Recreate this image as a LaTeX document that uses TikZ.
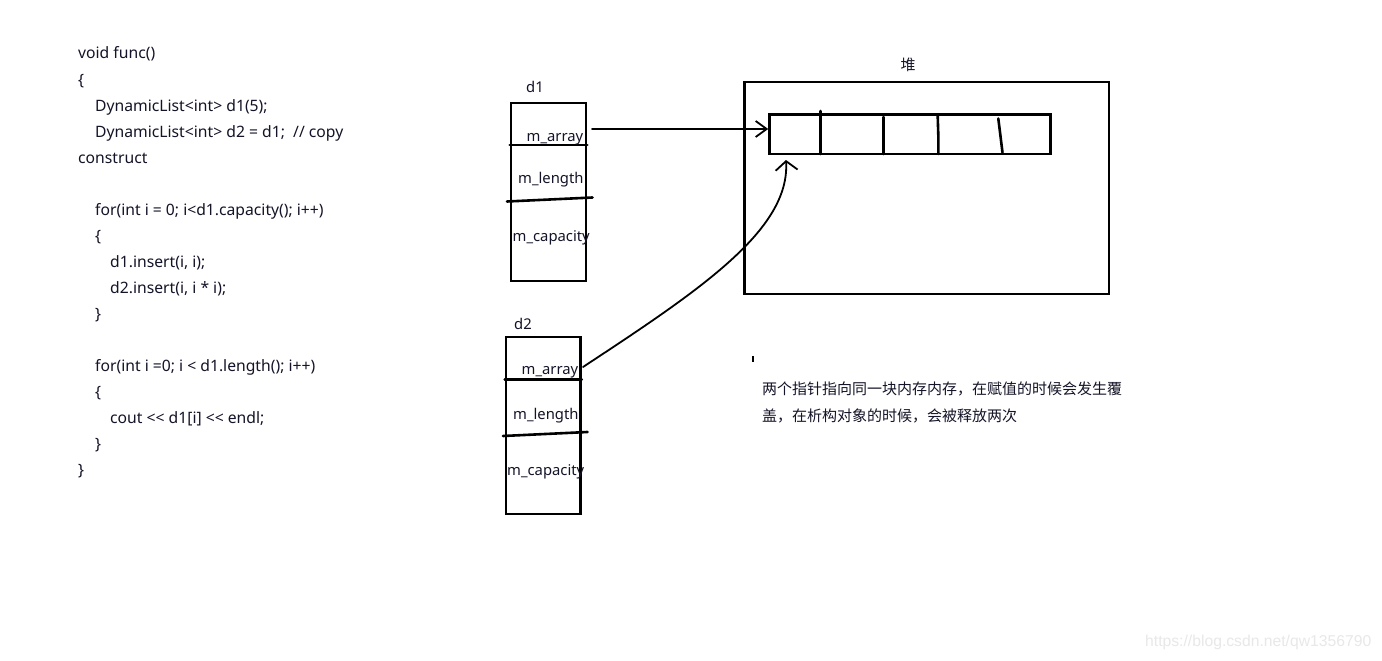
\documentclass[tikz,border=0pt]{standalone}
\usepackage{fontspec}
\setmainfont{Noto Sans}[Ligatures=TeXOff]
\newfontfamily\cjk{Noto Sans CJK SC}
\newfontfamily\wmfont{Liberation Sans}
\usetikzlibrary{arrows.meta}
\definecolor{txt}{RGB}{20,20,40}
\definecolor{wm}{RGB}{232,232,232}
\tikzset{
  code/.style={inner sep=0pt, anchor=base west, text=txt, font=\fontsize{15.7}{18}\selectfont},
  lbl/.style={inner sep=0pt, anchor=base west, text=txt, font=\fontsize{14.8}{17}\selectfont},
  note/.style={inner sep=0pt, anchor=base west, text=txt, font=\cjk\fontsize{15}{18}\selectfont},
  thick3/.style={draw=black, line width=2.6pt, line cap=round},
  box/.style={thick3, rectangle, inner sep=0pt, fill=none},
  pen/.style={draw=black, line width=1.8pt, line cap=round, line join=round},
  barb/.style={-{Straight Barb[length=11pt,width=16pt,line width=1.8pt]}},
  barbwide/.style={-{Straight Barb[length=9pt,width=22pt,line width=1.8pt]}}
}
\begin{document}
\begin{tikzpicture}[x=1pt,y=-1pt]
\fill[white] (0,0) rectangle (1382,661);
\useasboundingbox (0,0) rectangle (1382,661);

% code
\node[code] (c1) at (78,59) {void func()};
\node[code] (c2) at (78,85) {\{};
\node[code] (c3) at (95,111) {DynamicList<int> d1(5);};
\node[code] (c4) at (95,137) {DynamicList<int> d2 = d1;~ // copy};
\node[code] (c5) at (78,163) {construct};
\node[code] (c6) at (95,215) {for(int i = 0; i<d1.capacity(); i++)};
\node[code] (c7) at (95,241) {\{};
\node[code] (c8) at (110,267) {d1.insert(i, i);};
\node[code] (c9) at (110,293) {d2.insert(i, i * i);};
\node[code] (c10) at (95,319) {\}};
\node[code] (c11) at (95,371) {for(int i =0; i < d1.length(); i++)};
\node[code] (c12) at (95,397) {\{};
\node[code] (c13) at (110,423) {cout << d1[i] << endl;};
\node[code] (c14) at (95,449) {\}};
\node[code] (c15) at (78,475) {\}};

% d1
\node[box, minimum width=75pt, minimum height=178pt] (d1) at (548.5,192) {};
\draw[thick3] (d1.west |- 0,145) -- (d1.east |- 0,145);
\draw[thick3] (507,201.5) -- (592.5,197.5);
\node[lbl] (d1n) at (526,92.5) {d1};
\node[lbl] (d1a) at (526.5,141.5) {m\_array};
\node[lbl] (d1l) at (518,183) {m\_length};
\node[lbl] (d1c) at (512.5,241.5) {m\_capacity};

% d2
\node[box, minimum width=74.5pt, minimum height=177pt] (d2) at (543.25,425.5) {};
\draw[thick3] (d2.west |- 0,379.5) -- (d2.east |- 0,379.5);
\draw[thick3] (503,436) -- (587.5,432);
\node[lbl] (d2n) at (514,329) {d2};
\node[lbl] (d2a) at (521.5,374.5) {m\_array};
\node[lbl] (d2l) at (513,419) {m\_length};
\node[lbl] (d2c) at (507,475.5) {m\_capacity};

% heap
\node[box, minimum width=364.5pt, minimum height=212pt] (heap) at (926.75,188) {};
\node[inner sep=0pt, text=txt, font=\cjk\fontsize{15}{18}\selectfont] (heapl) at (908,65) {堆};
\node[box, minimum width=281pt, minimum height=39.5pt] (arr) at (910,134.25) {};
\draw[thick3] (820.5,111) -- (820.5,154);
\draw[thick3] (883.7,117) -- (883.7,154);
\draw[thick3] (937.7,116) -- (938.3,135) -- (938.3,154);
\draw[thick3] (998.3,118.5) -- (1002.5,152.5);

% connectors
\coordinate (s1) at (592,129);
\draw[pen, barb] (s1) -- (arr.west |- s1);
\coordinate (s2) at (583,367);
\coordinate (t2) at (786,160);
\draw[pen, barbwide] (s2) .. controls (700,290) and (790,230) .. (t2);

% tick
\draw[black, line width=1.8pt] (753,356) -- (753,362);

% note
\node[note] (n1) at (762,394.5) {两个指针指向同一块内存内存，在赋值的时候会发生覆};
\node[note] (n2) at (762,421) {盖，在析构对象的时候，会被释放两次};

% watermark
\node[inner sep=0pt, anchor=base west, text=wm, font=\wmfont\fontsize{15.7}{18}\selectfont] (wmk) at (1145,646) {https://blog.csdn.net/qw1356790};
\end{tikzpicture}
\end{document}
